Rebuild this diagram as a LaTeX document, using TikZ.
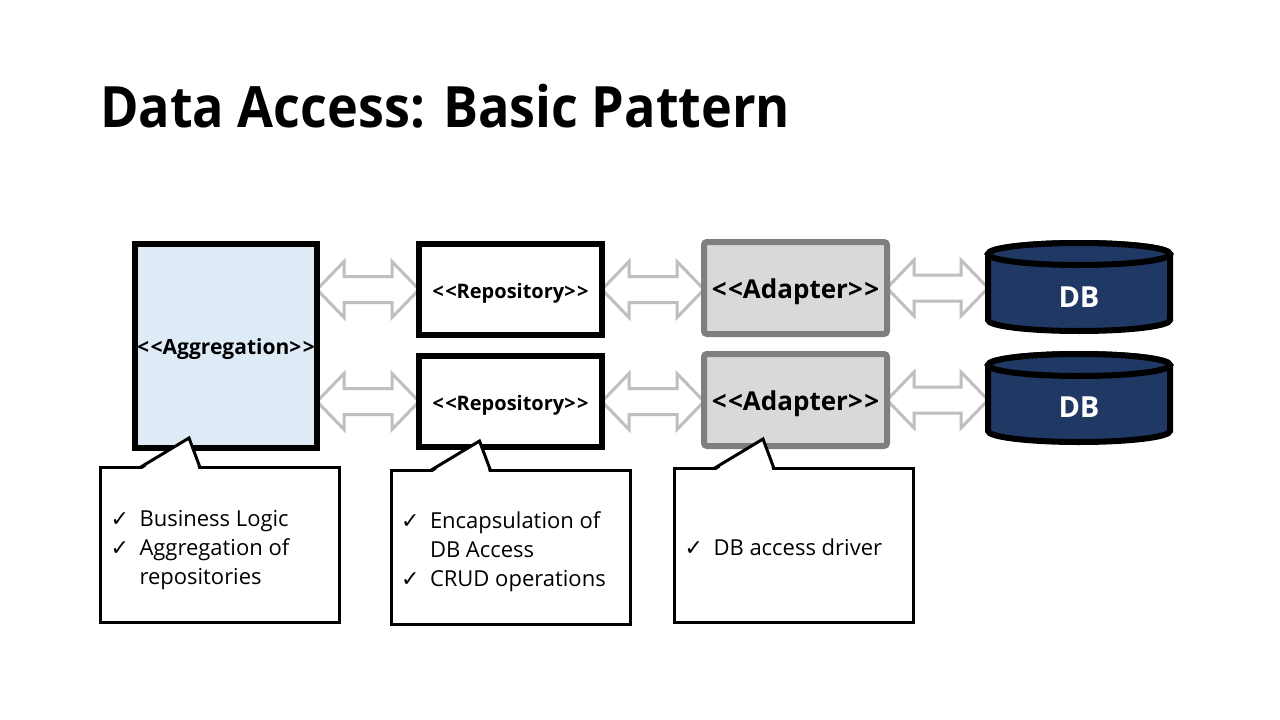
\documentclass[tikz,border=0pt]{standalone}
\usepackage{fontspec}
\setmainfont{Open Sans}
\newfontfamily\titlefont[FakeStretch=0.915]{Open Sans}
\newfontfamily\symfont{DejaVu Sans}
\usetikzlibrary{calc,positioning,backgrounds}

\definecolor{aggblue}{RGB}{222,235,247}
\definecolor{adgray}{RGB}{217,217,217}
\definecolor{adborder}{RGB}{127,127,127}
\definecolor{arrowgray}{RGB}{191,191,191}
\definecolor{dbnavy}{RGB}{32,56,100}

\tikzset{
  unitbox/.style={draw=black, line width=6pt, outer sep=0pt, inner sep=0pt, align=center},
  aggbox/.style={unitbox, fill=aggblue, minimum width=182pt, minimum height=204pt, font=\fontsize{21}{25}\selectfont\bfseries},
  repbox/.style={unitbox, fill=white, minimum width=183pt, minimum height=91pt, font=\fontsize{20}{25}\selectfont\bfseries},
  adbox/.style={unitbox, draw=adborder, fill=adgray, rounded corners=3pt, minimum width=183pt, minimum height=92pt, font=\fontsize{26}{30}\selectfont\bfseries},
  dbtext/.style={text=white, outer sep=0pt, inner sep=0pt, minimum width=182pt, font=\fontsize{29}{32}\selectfont\bfseries},
  drum/.style={draw=black, fill=dbnavy, line width=6pt},
  notebox/.style={draw=black, fill=white, line width=3pt, outer sep=0pt, inner xsep=10pt, inner ysep=0pt, minimum width=239pt, minimum height=155pt, font=\fontsize{22}{29}\selectfont},
  noteline/.style={draw=black, line width=3pt},
  twoway/.style={draw=arrowgray, fill=white, line width=3pt},
}

% stereotype brackets
\newcommand{\stereo}[1]{\raisebox{-3.5pt}[\height][\depth]{<\kern1.5pt<#1>\kern1.5pt>}}
% check mark items
\newcommand{\ck}{{\symfont ✓}}
\newcommand{\ckline}[1]{\makebox[29pt][l]{\ck}#1}
\newcommand{\goon}[1]{\hspace*{29pt}#1}
% note text, lowered by #1
\newcommand{\notetext}[2]{\raisebox{-#1}[\height][\depth]{\parbox{219pt}{\raggedright #2}}}
% hollow two way arrow, tips at #1 and #2
\newcommand{\dblarrow}[2]{%
  \draw[twoway] (#1) -- ($(#1)+(27,-28)$) -- ($(#1)+(27,-13)$) -- ($(#2)+(-27,-13)$)
    -- ($(#2)+(-27,-28)$) -- (#2) -- ($(#2)+(-27,28)$) -- ($(#2)+(-27,13)$)
    -- ($(#1)+(27,13)$) -- ($(#1)+(27,28)$) -- cycle;}
% database drum: center x, top y, bottom y
\newcommand{\dbdrum}[3]{%
  \filldraw[drum] (#1-91,#2) -- (#1-91,#3) arc[start angle=180, end angle=0, x radius=91, y radius=11]
    -- (#1+91,#2) arc[start angle=0, end angle=-180, x radius=91, y radius=11] -- cycle;
  \filldraw[drum] (#1,#2) ellipse[x radius=91, y radius=11];}
% notch of a note
\newcommand{\pointer}[1]{%
  \fill[white] ($(#1.north west)+(41,2)$) -- ($(#1.north west)+(88.5,-29.5)$) -- ($(#1.north west)+(98,2)$) -- cycle;
  \draw[noteline] ($(#1.north west)+(39.5,0)$) -- ($(#1.north west)+(88.5,-29.5)$) -- ($(#1.north west)+(99.5,0)$);}

\begin{document}
\begin{tikzpicture}[x=1pt, y=-1pt]
	% page
	\begin{scope}[on background layer]
	\fill[white] (0,0) rectangle (1280,720);
	\end{scope}
	\useasboundingbox (0,0) rectangle (1280,720);
	% title
	\node[anchor=base west, inner sep=0pt, font=\fontsize{57}{60}\titlefont\bfseries] (title) at (100,127) {Data Access: Basic Pattern};
	% boxes
	\node[aggbox] (agg) at (226,346) {\stereo{Aggregation}};
	\node[repbox] (rep1) at (510.5,289.5) {\stereo{Repository}};
	\node[repbox] (rep2) at (510.5,401.5) {\stereo{Repository}};
	\node[adbox] (ad1) at (795.5,288) {\stereo{Adapter}};
	\node[adbox] (ad2) at (795.5,400) {\stereo{Adapter}};
	% databases
	\dbdrum{1079}{254}{320}
	\dbdrum{1079}{365}{431}
	\node[dbtext] (db1) at (1079,297) {DB};
	\node[dbtext] (db2) at (1079,407) {DB};
	% arrows
	\begin{scope}[on background layer]
	\dblarrow{rep1.west -| agg.east}{rep1.west}
	\dblarrow{rep2.west -| agg.east}{rep2.west}
	\dblarrow{rep1.east}{rep1.east -| ad1.west}
	\dblarrow{rep2.east}{rep2.east -| ad2.west}
	\dblarrow{ad1.east}{ad1.east -| db1.west}
	\dblarrow{ad2.east}{ad2.east -| db2.west}
	\end{scope}
	% notes
	\node[notebox] (note1) at (220,545) {\notetext{5pt}{\ckline{Business Logic}\\ \ckline{Aggregation of}\\ \goon{repositories}}};
	\node[notebox, minimum height=154pt] (note2) at (510.5,547.5) {\notetext{4pt}{\ckline{Encapsulation of}\\ \goon{DB Access}\\ \ckline{CRUD operations}}};
	\node[notebox, minimum height=154pt] (note3) at (794,545.5) {\notetext{2pt}{\ckline{DB access driver}}};
	\pointer{note1}
	\pointer{note2}
	\pointer{note3}
\end{tikzpicture}
\end{document}
